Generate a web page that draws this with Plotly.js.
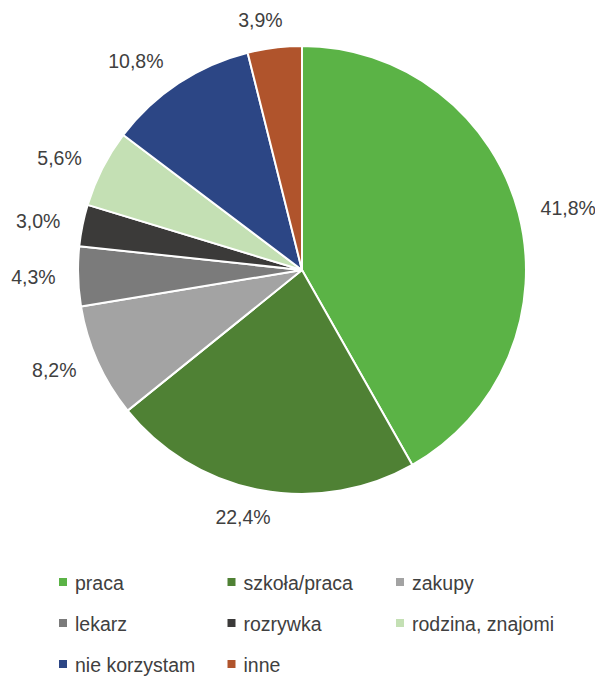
<!DOCTYPE html>
<html><head><meta charset="utf-8">
<script src="https://cdn.plot.ly/plotly-3.0.1.min.js"></script>
<style>html,body{margin:0;padding:0;background:#fff}</style>
</head><body>
<div id="chart" style="width:595px;height:677px"></div>
<script>
var categories = ['praca','szkoła/praca','zakupy','lekarz','rozrywka','rodzina, znajomi','nie korzystam','inne'];
var values = [41.8, 22.4, 8.2, 4.3, 3.0, 5.6, 10.8, 3.9];
var colors = ['#5bb346','#4f8134','#a3a3a3','#7b7b7b','#3b3a39','#c4e0b4','#2c4685','#b0542c'];
var labelsText = values.map(function(v){ return v.toFixed(1).replace('.', ',') + '%'; });
var FONT = '"Liberation Sans Narrow", "Arial Narrow", "Liberation Sans", Arial, sans-serif';

var trace = {
  type: 'pie',
  labels: categories,
  values: values,
  text: labelsText,
  textinfo: 'text',
  textposition: 'outside',
  hoverinfo: 'label+text',
  sort: false,
  direction: 'clockwise',
  rotation: 0,
  marker: {colors: colors, line: {color: '#ffffff', width: 2}},
  outsidetextfont: {family: FONT, size: 19.5, color: '#404040'},
  domain: {x: [0.1311, 0.8840], y: [0.2703, 0.9320]}
};

var layout = {
  width: 595, height: 677,
  margin: {l: 0, r: 0, t: 0, b: 0},
  paper_bgcolor: '#ffffff',
  showlegend: true,
  legend: {
    orientation: 'h',
    x: 0.06, y: 0.175, xanchor: 'left', yanchor: 'top',
    entrywidth: 130, entrywidthmode: 'pixels',
    font: {family: FONT, size: 19.5, color: '#404040'},
    tracegroupgap: 0
  },
  font: {family: FONT}
};

// legend grid (styling only): symbol centres of columns / rows
var legendColX = [63, 231.5, 400];
var legendRowY = [582, 623, 664];
var labelPush = 17;

Plotly.newPlot('chart', [trace], layout, {displayModeBar: false, staticPlot: true}).then(function(gd){
  var root = gd.getBoundingClientRect();
  // push outside labels a bit further out, along each slice's mid direction;
  // labels near top/bottom are centred more on their ray (Excel-like)
  gd.querySelectorAll('g.slice').forEach(function(s){
    var pt = s.__data__;
    var t = s.querySelector('g.slicetext');
    if(!pt || !t || !pt.pxmid) return;
    var L = Math.hypot(pt.pxmid[0], pt.pxmid[1]) || 1;
    var ux = pt.pxmid[0]/L, uy = pt.pxmid[1]/L;
    var dx = ux*labelPush, dy = uy*labelPush;
    if(Math.abs(uy) > 0.95){
      var bb = t.getBoundingClientRect();
      dx += -Math.sign(ux) * 0.7 * bb.width/2;
    }
    t.setAttribute('transform', 'translate(' + dx + ',' + dy + ')');
  });
  // legend: no clipping, smaller squares, Excel-like grid
  gd.querySelectorAll('.legend [clip-path]').forEach(function(e){ e.removeAttribute('clip-path'); });
  gd.querySelectorAll('.legend .traces').forEach(function(tr, i){
    var sq = tr.querySelector('path.legendpie');
    if(!sq) return;
    sq.setAttribute('d', 'M5,5H-5V-5H5Z');
    sq.setAttribute('transform', 'translate(28,0)');
    var r = sq.getBoundingClientRect();
    var cx = (r.left + r.right)/2 - root.left, cy = (r.top + r.bottom)/2 - root.top;
    var dx = legendColX[i % 3] - cx, dy = legendRowY[Math.floor(i / 3)] - cy;
    var m = /translate\(\s*([-\d.e]+)[\s,]+([-\d.e]+)\s*\)/.exec(tr.getAttribute('transform') || 'translate(0,0)');
    var ox = m ? +m[1] : 0, oy = m ? +m[2] : 0;
    tr.setAttribute('transform', 'translate(' + (ox + dx) + ',' + (oy + dy) + ')');
  });
});
</script>
</body></html>
